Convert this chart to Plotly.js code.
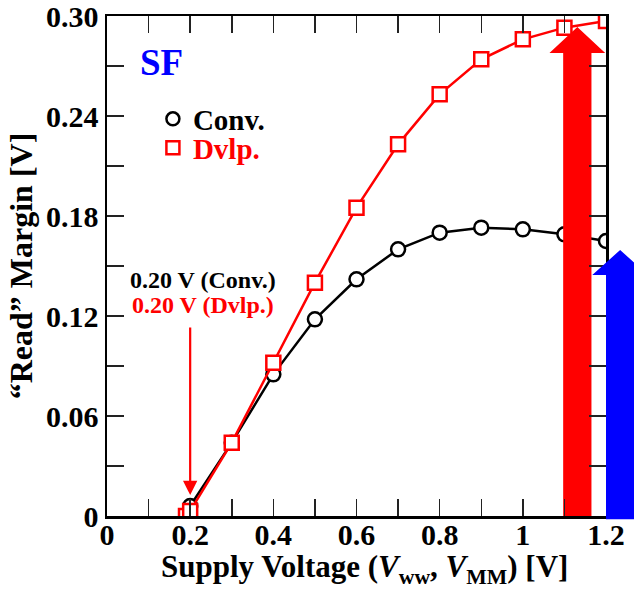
<!DOCTYPE html>
<html>
<head>
<meta charset="utf-8">
<script src="https://cdn.plot.ly/plotly-3.0.1.min.js"></script>
<style>html,body{margin:0;padding:0;background:#fff;}#chart{width:634px;height:591px;}</style>
</head>
<body>
<div id="chart"></div>
<script>
// ---- data ----
const convX = [0.20, 0.30, 0.40, 0.50, 0.60, 0.70, 0.80, 0.90, 1.00, 1.10, 1.20];
const convY = [0.006, 0.044, 0.085, 0.118, 0.142, 0.160, 0.170, 0.173, 0.172, 0.169, 0.165];
const dvlpX = [0.19, 0.20, 0.30, 0.40, 0.50, 0.60, 0.70, 0.80, 0.90, 1.00, 1.10, 1.20];
const dvlpY = [0.000, 0.003, 0.044, 0.092, 0.140, 0.185, 0.223, 0.253, 0.274, 0.286, 0.293, 0.297];
const xTickVals = [0, 0.1, 0.2, 0.3, 0.4, 0.5, 0.6, 0.7, 0.8, 0.9, 1.0, 1.1, 1.2];
const xTickText = ['0', '', '0.2', '', '0.4', '', '0.6', '', '0.8', '', '1', '', '1.2'];
const yTickVals = [0, 0.03, 0.06, 0.09, 0.12, 0.15, 0.18, 0.21, 0.24, 0.27, 0.30];
const yTickText = ['0', '', '0.06', '', '0.12', '', '0.18', '', '0.24', '', '0.30'];
const onsetV = 0.20;

const F = '"Liberation Serif", "Times New Roman", serif';
const XR = [0, 1.2], YR = [0, 0.30];

// big arrow geometry (data units)
function arrowPoly(cx, halfShaft, halfHead, yBottom, yBase, yTop) {
  return {
    x: [cx - halfShaft, cx - halfShaft, cx - halfHead, cx, cx + halfHead, cx + halfShaft, cx + halfShaft, cx - halfShaft],
    y: [yBottom, yBase, yBase, yTop, yBase, yBase, yBottom, yBottom]
  };
}
const redA = arrowPoly(1.131, 0.034, 0.067, -0.002, 0.2778, 0.2934);
const blueA = arrowPoly(1.234, 0.034, 0.067, -0.002, 0.1446, 0.1596);
function toPaperPath(a) {
  let p = '';
  for (let i = 0; i < a.x.length; i++) {
    const px = (a.x[i] - XR[0]) / (XR[1] - XR[0]);
    const py = (a.y[i] - YR[0]) / (YR[1] - YR[0]);
    p += (i === 0 ? 'M' : 'L') + px.toFixed(4) + ',' + py.toFixed(4);
  }
  return p + 'Z';
}

const traces = [
  {x: convX, y: convY, mode: 'lines+markers', showlegend: false,
   line: {color: 'black', width: 2.5},
   marker: {symbol: 'circle', size: 14, color: 'white', line: {color: 'black', width: 2.5}}},
  {x: redA.x, y: redA.y, mode: 'lines', fill: 'toself', fillcolor: 'red',
   line: {color: 'red', width: 0}, showlegend: false, hoverinfo: 'skip'},
  {x: dvlpX, y: dvlpY, mode: 'lines+markers', showlegend: false,
   line: {color: 'red', width: 2.5},
   marker: {symbol: 'square', size: 14, color: 'white', line: {color: 'red', width: 2.5}}},
  {x: [null], y: [null], mode: 'markers', name: 'Conv.', showlegend: true, legend: 'legend',
   marker: {symbol: 'circle', size: 13, color: 'white', line: {color: 'black', width: 2.5}}},
  {x: [null], y: [null], mode: 'markers', name: 'Dvlp.', showlegend: true, legend: 'legend2',
   marker: {symbol: 'square', size: 13, color: 'white', line: {color: 'red', width: 2.5}}}
];

const axisCommon = {
  ticks: 'inside', ticklen: 17, tickwidth: 1.5, tickcolor: '#222',
  showline: true, linecolor: 'black', linewidth: 2.5, mirror: 'ticks',
  showgrid: false, zeroline: false, tickmode: 'array', ticklabeloverflow: 'allow',
  tickfont: {family: F, size: 30, color: 'black', weight: 'bold'}
};

const legendCommon = {x: 0.092, xanchor: 'left', yanchor: 'top', bgcolor: 'rgba(0,0,0,0)', itemwidth: 30};

const layout = {
  width: 634, height: 591,
  margin: {l: 107, r: 28, t: 16, b: 75},
  paper_bgcolor: 'white', plot_bgcolor: 'white',
  font: {family: F, color: 'black'},
  xaxis: Object.assign({}, axisCommon, {
    range: XR, tickvals: xTickVals, ticktext: xTickText, ticklabelstandoff: -10
  }),
  yaxis: Object.assign({}, axisCommon, {
    range: YR, tickvals: yTickVals, ticktext: yTickText,
    title: {text: '<b>\u201CRead\u201D Margin [V]</b>', font: {family: F, size: 32, color: 'black'}, standoff: 4}
  }),
  showlegend: true,
  legend: Object.assign({}, legendCommon, {y: 0.845, font: {family: F, size: 29, color: 'black', weight: 'bold'}}),
  legend2: Object.assign({}, legendCommon, {y: 0.787, font: {family: F, size: 29, color: 'red', weight: 'bold'}}),
  shapes: [
    {type: 'path', xref: 'paper', yref: 'paper', path: toPaperPath(blueA),
     fillcolor: 'blue', line: {width: 0}, layer: 'above'}
  ],
  annotations: [
    {x: 0.517, y: -0.106, xref: 'paper', yref: 'paper', xanchor: 'center', yanchor: 'middle',
     text: '<b>Supply Voltage (<i>V</i><sub>ww</sub>, <i>V</i><sub>MM</sub>) [V]</b>', showarrow: false,
     font: {family: F, size: 31, color: 'black'}},
    {x: 0.110, y: 0.906, xref: 'paper', yref: 'paper', xanchor: 'center', yanchor: 'middle',
     text: '<b>SF</b>', showarrow: false, font: {family: F, size: 37, color: 'blue'}},
    {x: 0.231, y: 0.1416, xref: 'x', yref: 'y', xanchor: 'center', yanchor: 'middle',
     text: '<b>0.20 V (Conv.)</b>', showarrow: false, font: {family: F, size: 24, color: 'black'}},
    {x: 0.231, y: 0.1266, xref: 'x', yref: 'y', xanchor: 'center', yanchor: 'middle',
     text: '<b>0.20 V (Dvlp.)</b>', showarrow: false, font: {family: F, size: 24, color: 'red'}},
    {x: onsetV, y: 0.0126, xref: 'x', yref: 'y', text: '', showarrow: true,
     ax: 0, ay: -169, arrowcolor: 'red', arrowwidth: 2.2, arrowhead: 2, arrowsize: 1.3}
  ]
};

Plotly.newPlot('chart', traces, layout, {displayModeBar: false, staticPlot: true});
</script>
</body>
</html>
